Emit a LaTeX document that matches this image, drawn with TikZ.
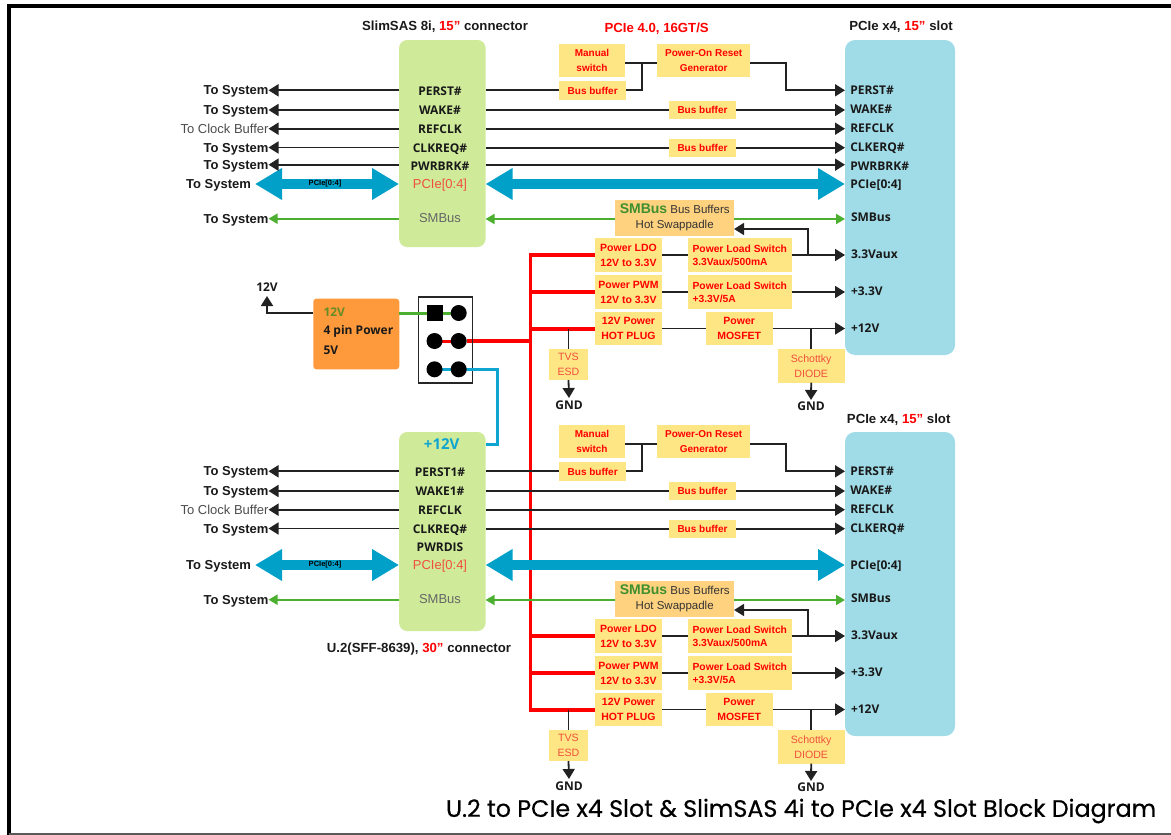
\documentclass[tikz,border=0pt]{standalone}
\usepackage{fontspec}
\setmainfont{Liberation Sans}
\newfontfamily\osans{Open Sans}
\newfontfamily\titlefont[FakeBold=0.5]{Poppins}
\usetikzlibrary{arrows.meta,backgrounds}
\definecolor{cYellow}{HTML}{FFE685}
\definecolor{cOrangeBox}{HTML}{FFD27F}
\definecolor{cOrange}{HTML}{FF9A3C}
\definecolor{cSlot}{HTML}{A0DCE8}
\definecolor{cConn}{HTML}{CFEB9A}
\definecolor{cBig}{HTML}{00A0C8}
\definecolor{cWire}{HTML}{222222}
\definecolor{cGreen}{HTML}{4CAF2F}
\definecolor{cCyan}{HTML}{10A5D0}
\definecolor{cRedTxt}{HTML}{F0503C}
\definecolor{cDarkGreen}{HTML}{3F8F2F}
\tikzset{
  sz/.style 2 args={minimum width=#1pt,minimum height=#2pt},
  anynode/.style={inner sep=0pt,outer sep=0pt},
  ybox/.style={anynode,fill=cYellow,align=center,text=red,font=\fontsize{10}{15}\selectfont\bfseries},
  lbox/.style={ybox,align=left,font=\fontsize{10.3}{13}\selectfont\bfseries},
  tbox/.style={ybox,text=cRedTxt,font=\fontsize{10.6}{15}\selectfont},
  pbox/.style={ybox,font=\fontsize{10.5}{15}\selectfont\bfseries},
  sbox/.style={anynode,fill=cOrangeBox,align=center,text=black!80,font=\fontsize{11.5}{15}\selectfont},
  sysbold/.style={anynode,anchor=east,text height=9pt,text depth=0pt,text=black!90,font=\fontsize{13}{15}\selectfont\bfseries},
  sysreg/.style={anynode,anchor=east,text height=9pt,text depth=0pt,text=black!70,font=\fontsize{13}{15}\selectfont},
  pinlab/.style={anynode,text height=9pt,text depth=0pt,text=black!90,font=\fontsize{12}{14}\selectfont\osans\bfseries},
  redlab/.style={anynode,text height=9pt,text depth=0pt,text=cRedTxt,font=\fontsize{13}{15}\selectfont},
  gralab/.style={anynode,text height=9pt,text depth=0pt,text=black!60,font=\fontsize{13}{15}\selectfont},
  slotlab/.style={pinlab,anchor=west},
  head/.style={anynode,text=black!90,font=\fontsize{13.2}{15}\selectfont\bfseries},
  gndlab/.style={anynode,text=black!90,font=\fontsize{12}{14}\selectfont\osans\bfseries},
  wire/.style={draw=cWire,line width=1.8pt},
  wireto/.style={wire,-{Triangle[width=12pt,length=10pt]}},
  gwire/.style={draw=cGreen,line width=1.8pt,-{Triangle[width=10pt,length=9pt]}},
  bigarrow/.style={draw=cBig,line width=10pt,{Triangle[width=30pt,length=27pt]}-{Triangle[width=30pt,length=27pt]}},
  redbus/.style={draw=red,line width=3.8pt,miter limit=10},
  pinround/.style={anynode,circle,fill=black,minimum size=16pt},
  pinsq/.style={anynode,fill=black,minimum size=16pt},
}
% #1 prefix, #2 connector block, #3 slot block, #4 PERST text, #5 WAKE text
\newcommand{\leftpart}[5]{%
  \node[pinlab] (#1p1) at (440,91) {#4};
  \node[pinlab] (#1p2) at (440,110) {#5};
  \node[pinlab] (#1p3) at (440,128.5) {REFCLK};
  \node[pinlab] (#1p4) at (440,147.5) {CLKREQ\#};
  \node[redlab] (#1p6) at (440,183.5) {PCIe[0:4]};
  \node[gralab] (#1p7) at (440,218) {SMBus};
  \node[sysbold] (#1s1) at (268.5,90.3) {To System};
  \node[sysbold] (#1s2) at (268.5,110) {To System};
  \node[sysreg]  (#1s3) at (268.5,128.7) {To Clock Buffer};
  \node[sysbold] (#1s4) at (268.5,147.5) {To System};
  \node[sysbold] (#1s6) at (251,183.5) {To System};
  \node[sysbold] (#1s7) at (268.5,218.7) {To System};
  \coordinate (#1tip) at (255,184);
  \foreach \n in {1,2,3,4}{\draw[wireto] (#2.west |- #1s\n.east) -- (#1s\n.east);}
  \draw[gwire] (#2.west |- #1s7.east) -- (#1s7.east);
  \draw[bigarrow] (#1tip) -- (#2.west |- #1tip);
  \node[anynode,text=black,font=\fontsize{7.5}{9}\selectfont\bfseries] (#1lbl) at (325,184) {PCIe[0:4]};
}
% #1 prefix, #2 connector block, #3 slot block
\newcommand{\rightpart}[3]{%
  \node[ybox,sz={66.5}{33}] (#1man) at (592,60.5) {Manual\\switch};
  \node[ybox,sz={93.3}{33}] (#1por) at (703.7,60.5) {Power-On Reset\\Generator};
  \node[ybox,sz={66.7}{18.3}] (#1bb0) at (592.7,90.5) {Bus buffer};
  \node[ybox,sz={67}{18.3}] (#1bb1) at (702.5,110) {Bus buffer};
  \node[ybox,sz={67}{18.3}] (#1bb2) at (702.5,147.7) {Bus buffer};
  \node[sbox,sz={118.7}{35.7}] (#1smb) at (674.7,217.8) {{\fontsize{14}{15}\selectfont\bfseries\color{cDarkGreen}SMBus} Bus Buffers\\Hot Swappadle};
  \node[pbox,sz={67.6}{33.4}] (#1ldo) at (628.5,255) {Power LDO\\12V to 3.3V};
  \node[pbox,sz={67.6}{33.4}] (#1pwm) at (628.5,292) {Power PWM\\12V to 3.3V};
  \node[pbox,sz={67.6}{33.4}] (#1hot) at (628.5,328.7) {12V Power\\HOT PLUG};
  \node[lbox,sz={103.7}{33.4}] (#1ls1) at (739.8,255) {Power Load Switch\\3.3Vaux/500mA};
  \node[lbox,sz={103.7}{33.4}] (#1ls2) at (739.8,292) {Power Load Switch\\+3.3V/5A};
  \node[pbox,sz={67}{33.4}] (#1mos) at (739.2,328.7) {Power\\MOSFET};
  \node[tbox,sz={39}{31}] (#1tvs) at (568.5,364.5) {TVS\\ESD};
  \node[tbox,sz={67}{33.4}] (#1sch) at (811.2,366) {Schottky\\DIODE};
  \node[gndlab] (#1gnd1) at (569,405) {GND};
  \node[gndlab] (#1gnd2) at (811,406.5) {GND};
  \coordinate (#1y1) at (0,90.3);
  \coordinate (#1y2) at (0,110);
  \coordinate (#1y3) at (0,128.7);
  \coordinate (#1y4) at (0,147.7);
  \coordinate (#1y6) at (0,184);
  \coordinate (#1y7) at (0,219);
  \coordinate (#1yj) at (0,63);
  \coordinate (#1xj) at (642.3,0);
  \coordinate (#1xp) at (786,0);
  \coordinate (#1xf) at (808.3,0);
  \coordinate (#1yf) at (0,229);
  \coordinate (#1y8) at (0,255);
  \coordinate (#1y9) at (0,292);
  \coordinate (#1y10) at (0,328.5);
  \coordinate (#1gt1) at (569,398);
  \coordinate (#1gt2) at (811,400);
  % signals
  \draw[wire] (#2.east |- #1y1) -- (#1bb0.west |- #1y1);
  \draw[wire] (#1bb0.east |- #1y1) -- (#1xj |- #1y1) -- (#1xj |- #1yj);
  \draw[wire] (#1man.east |- #1yj) -- (#1por.west |- #1yj);
  \draw[wireto] (#1por.east |- #1yj) -- (#1xp |- #1yj) -- (#1xp |- #1y1) -- (#3.west |- #1y1);
  \draw[wire] (#2.east |- #1y2) -- (#1bb1.west |- #1y2);
  \draw[wireto] (#1bb1.east |- #1y2) -- (#3.west |- #1y2);
  \draw[wireto] (#2.east |- #1y3) -- (#3.west |- #1y3);
  \draw[wire] (#2.east |- #1y4) -- (#1bb2.west |- #1y4);
  \draw[wireto] (#1bb2.east |- #1y4) -- (#3.west |- #1y4);
  \draw[gwire] (#1smb.west |- #1y7) -- (#2.east |- #1y7);
  \draw[gwire] (#1smb.east |- #1y7) -- (#3.west |- #1y7);
  \draw[bigarrow] (#2.east |- #1y6) -- (#3.west |- #1y6);
  % power
  \draw[wire] (#1ldo.east |- #1y8) -- (#1ls1.west |- #1y8);
  \draw[wireto] (#1ls1.east |- #1y8) -- (#3.west |- #1y8);
  \draw[wireto] (#1xf |- #1y8) -- (#1xf |- #1yf) -- (#1smb.east |- #1yf);
  \draw[wire] (#1pwm.east |- #1y9) -- (#1ls2.west |- #1y9);
  \draw[wireto] (#1ls2.east |- #1y9) -- (#3.west |- #1y9);
  \draw[wire] (#1hot.east |- #1y10) -- (#1mos.west |- #1y10);
  \draw[wireto] (#1mos.east |- #1y10) -- (#3.west |- #1y10);
  \draw[wire] (#1tvs.north |- #1y10) -- (#1tvs.north);
  \draw[wireto] (#1tvs.south) -- (#1gt1);
  \draw[wire] (#1sch.north |- #1y10) -- (#1sch.north);
  \draw[wireto] (#1sch.south) -- (#1gt2);
}
\newcommand{\slotlabels}[1]{%
  \node[slotlab] (#1l1) at (850.3,90) {PERST\#};
  \node[slotlab] (#1l2) at (850.3,108.6) {WAKE\#};
  \node[slotlab] (#1l3) at (850.3,128) {REFCLK};
  \node[slotlab] (#1l4) at (850.3,146.6) {CLKERQ\#};
  \node[slotlab] (#1l6) at (850.3,184) {PCIe[0:4]};
  \node[slotlab] (#1l7) at (851,216.6) {SMBus};
  \node[slotlab] (#1l8) at (851,254) {3.3Vaux};
  \node[slotlab] (#1l9) at (851,291) {+3.3V};
  \node[slotlab] (#1l10) at (851,328) {+12V};
}
\begin{document}
\begin{tikzpicture}[x=1pt,y=-1pt]
\useasboundingbox (0,0) rectangle (1171,835);
% frame
\draw[black,line width=3.8pt] (9,835) -- (9,5.8) -- (1171,5.8);
\draw[black!65,line width=2.5pt] (9,834) -- (1171,834);
% blocks
\node[anynode,fill=cConn,rounded corners=8pt,sz={86.5}{207}] (connA) at (442.3,143.5) {};
\node[anynode,fill=cConn,rounded corners=8pt,sz={86.5}{199}] (connB) at (442.3,531.5) {};
\node[anynode,fill=cSlot,rounded corners=10pt,sz={110}{315}] (slotA) at (900,197.5) {};
\node[anynode,fill=cSlot,rounded corners=10pt,sz={110}{304}] (slotB) at (900,584) {};
% headings
\node[head] (hA) at (445,26.7) {SlimSAS 8i, \textcolor{red}{15”} connector};
\node[head,text=red] (hB) at (656.7,29) {PCIe 4.0, 16GT/S};
\node[head] (hC) at (901,27) {PCIe x4, \textcolor{red}{15”} slot};
\node[head] (hD) at (898.7,420) {PCIe x4, \textcolor{red}{15”} slot};
\node[head] (hE) at (419,648.7) {U.2(SFF-8639), \textcolor{red}{30”} connector};
\node[anynode,anchor=west,text=black,font=\fontsize{23.8}{26}\selectfont\titlefont] (title) at (446,811) {U.2 to PCIe x4 Slot \& SlimSAS 4i to PCIe x4 Slot Block Diagram};
% power connector
\node[anynode,fill=cOrange,rounded corners=3pt,sz={86}{70.6}] (psu) at (356.3,334) {};
\node[anynode,anchor=west,text=cDarkGreen!80!orange,font=\fontsize{12}{14}\selectfont\osans\bfseries] (psu1) at (323.5,312.5) {12V};
\node[anynode,anchor=west,text=black!90,font=\fontsize{12}{14}\selectfont\osans\bfseries] (psu2) at (323.5,331) {4 pin Power};
\node[anynode,anchor=west,text=black!90,font=\fontsize{12}{14}\selectfont\osans\bfseries] (psu3) at (323.5,350) {5V};
\node[anynode,draw=black!85,line width=1.5pt,sz={54.4}{86}] (hdr) at (445.5,340) {};
\coordinate (pinC1) at (434.5,313);
\coordinate (pinD1) at (458.7,313);
\coordinate (pinC2) at (434.5,341);
\coordinate (pinD2) at (458.7,341);
\coordinate (pinC3) at (434.5,369.3);
\coordinate (pinD3) at (458.7,369.3);
\coordinate (busX) at (530.5,0);
\coordinate (blueX) at (497,0);
\coordinate (blueY) at (0,444.3);
\node[gndlab] (v12) at (267,287) {12V};
\coordinate (v12tip) at (267,296);
\draw[wireto] (psu.west |- pinC1) -- (v12tip |- pinC1) -- (v12tip);
\draw[draw=cGreen,line width=3pt] (psu.east |- pinC1) -- (pinD1);
\draw[draw=red,line width=3pt] (pinC2) -- (pinD2);
\draw[draw=cCyan,line width=3pt] (pinC3) -- (pinD3) -- (blueX |- pinD3) -- (blueX |- blueY) -- (connB.east |- blueY);
\node[pinsq] (pa) at (pinC1) {};
\node[pinround] (pb) at (pinD1) {};
\node[pinround] (pc) at (pinC2) {};
\node[pinround] (pd) at (pinD2) {};
\node[pinround] (pe) at (pinC3) {};
\node[pinround] (pf) at (pinD3) {};
\node[anynode,text=cCyan,font=\fontsize{15}{17}\selectfont\osans\bfseries] (plus12) at (441.7,444) {+12V};
% upper half
\leftpart{a}{connA}{slotA}{PERST\#}{WAKE\#}
\rightpart{a}{connA}{slotA}
\slotlabels{a}
\node[pinlab] (ap5) at (440,166) {PWRBRK\#};
\node[sysbold] (as5) at (268.5,164.7) {To System};
\draw[wireto] (connA.west |- as5.east) -- (as5.east);
\draw[wireto] (connA.east |- as5.east) -- (slotA.west |- as5.east);
\node[slotlab] (al5) at (850.3,165.6) {PWRBRK\#};
% lower half
\begin{scope}[shift={(0,381)}]
\leftpart{b}{connB}{slotB}{PERST1\#}{WAKE1\#}
\rightpart{b}{connB}{slotB}
\slotlabels{b}
\node[pinlab] (bp5) at (440,166.3) {PWRDIS};
\end{scope}
% red power bus, under everything else
\begin{pgfonlayer}{background}
\draw[redbus] (aldo.west) -- (busX |- aldo.west) -- (busX |- bhot.west) -- (bhot.west);
\draw[redbus] (pd) -- (busX |- pd);
\draw[redbus] (apwm.west) -- (busX |- apwm.west);
\draw[redbus] (ahot.west) -- (busX |- ahot.west);
\draw[redbus] (bldo.west) -- (busX |- bldo.west);
\draw[redbus] (bpwm.west) -- (busX |- bpwm.west);
\end{pgfonlayer}
\end{tikzpicture}
\end{document}
